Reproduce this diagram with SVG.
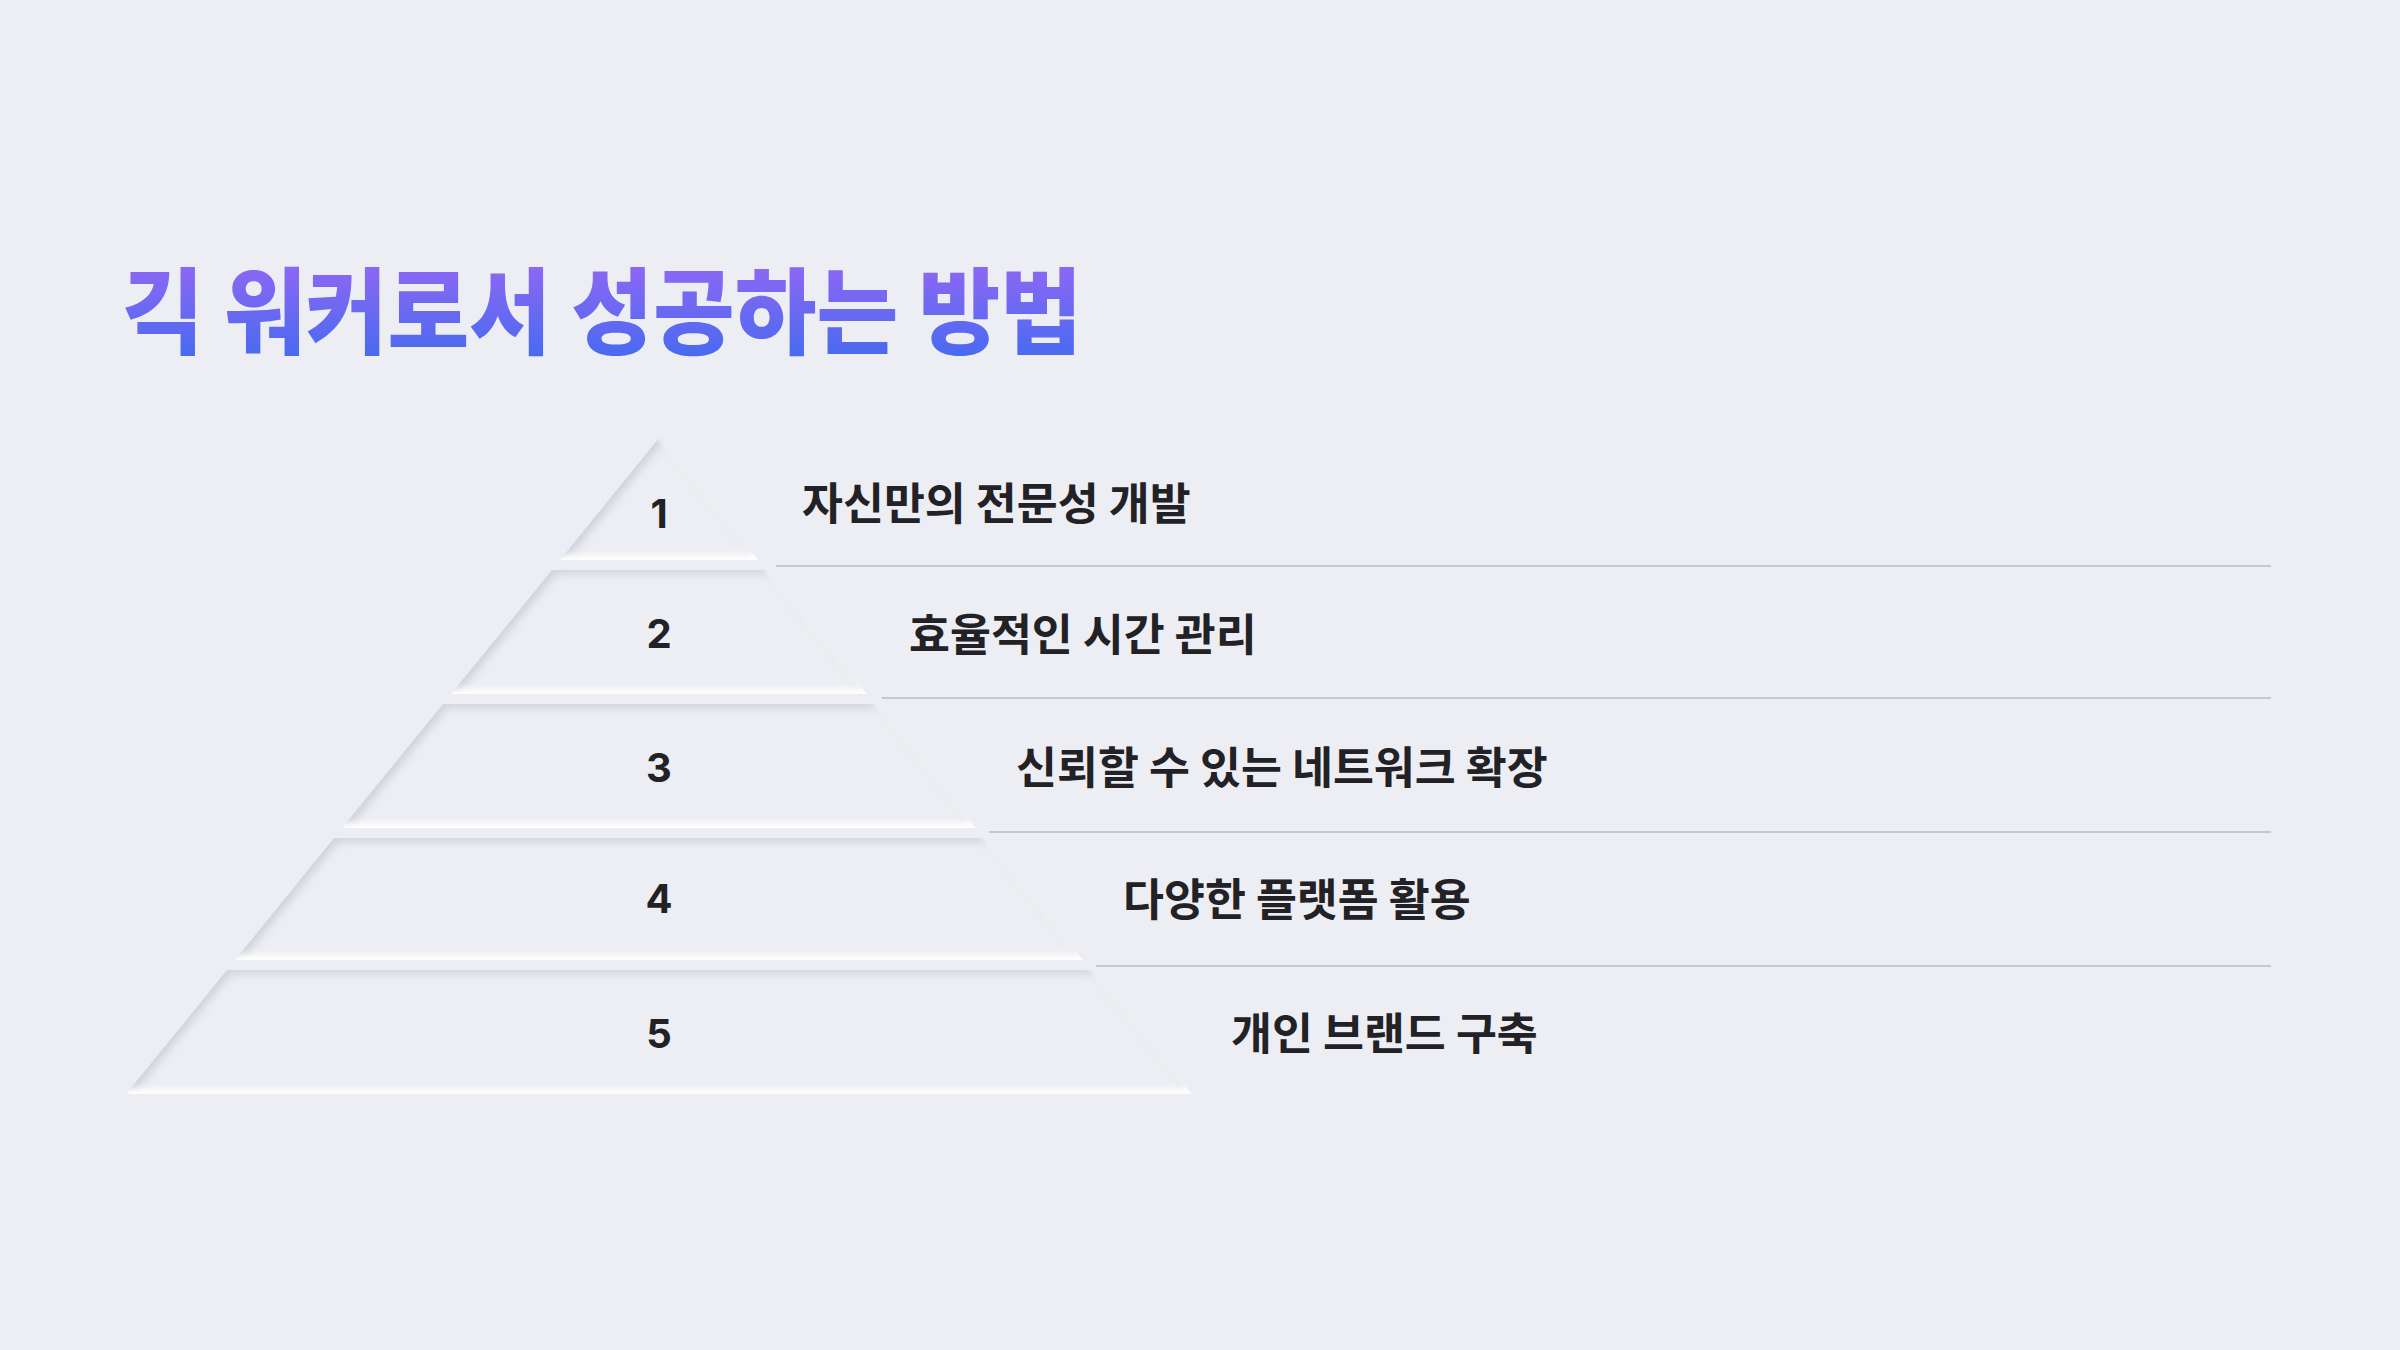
<svg xmlns="http://www.w3.org/2000/svg" width="2400" height="1350" viewBox="0 0 2400 1350">
  <defs>
    <linearGradient id="titleGrad" x1="0" y1="0" x2="0" y2="1">
      <stop offset="0" stop-color="#a266f5"/>
      <stop offset="1" stop-color="#3b6bef"/>
    </linearGradient>
    <filter id="inset" x="-10%" y="-10%" width="120%" height="120%">
      <feFlood flood-color="#cfd1dc" result="dark"/>
      <feComposite in="dark" in2="SourceAlpha" operator="out" result="outD"/>
      <feOffset in="outD" dx="4" dy="4" result="offD"/>
      <feGaussianBlur in="offD" stdDeviation="4" result="blurD"/>
      <feComposite in="blurD" in2="SourceAlpha" operator="in" result="shD"/>
      <feFlood flood-color="#ffffff" result="light"/>
      <feComposite in="light" in2="SourceAlpha" operator="out" result="outL"/>
      <feOffset in="outL" dx="-4" dy="-5" result="offL"/>
      <feGaussianBlur in="offL" stdDeviation="3" result="blurL"/>
      <feComposite in="blurL" in2="SourceAlpha" operator="in" result="shL"/>
      <feMerge>
        <feMergeNode in="SourceGraphic"/>
        <feMergeNode in="shD"/>
        <feMergeNode in="shL"/>
      </feMerge>
    </filter>
  </defs>
  <style>
    .layer { fill: #edeef3; filter: url(#inset); }
    .num { font-family: Inter, "Liberation Sans", sans-serif; font-weight: 700; font-size: 40px; fill: #222226; text-anchor: middle; }
    .label { font-family: "Noto Sans CJK KR", "Noto Sans", sans-serif; font-weight: 700; font-size: 44.5px; fill: #222226; }
    .sep { stroke: #c6c6d4; stroke-width: 2; fill: none; }
    .title { font-family: "Noto Sans CJK KR", "Noto Sans", sans-serif; font-weight: 900; font-size: 94px; fill: url(#titleGrad); }
  </style>
  <rect width="2400" height="1350" fill="#edeef3"/>

  <text class="title" x="122" y="347" textLength="960" lengthAdjust="spacingAndGlyphs">긱 워커로서 성공하는 방법</text>

  <g id="connectors">
    <line class="sep" x1="776" y1="566" x2="2271" y2="566"/>
    <line class="sep" x1="882" y1="698" x2="2271" y2="698"/>
    <line class="sep" x1="989" y1="832" x2="2271" y2="832"/>
    <line class="sep" x1="1096" y1="966" x2="2271" y2="966"/>
  </g>

  <g id="level1">
    <polygon class="layer" points="659,438 758,560 560,560"/>
    <text class="num" x="659" y="528">1</text>
    <text class="label" x="802" y="520">자신만의 전문성 개발</text>
  </g>
  <g id="level2">
    <polygon class="layer" points="552,570 766,570 867,694 451,694"/>
    <text class="num" x="659" y="648">2</text>
    <text class="label" x="909" y="651">효율적인 시간 관리</text>
  </g>
  <g id="level3">
    <polygon class="layer" points="443,704 875,704 976,828 342,828"/>
    <text class="num" x="659" y="782">3</text>
    <text class="label" x="1016" y="784">신뢰할 수 있는 네트워크 확장</text>
  </g>
  <g id="level4">
    <polygon class="layer" points="334,838 984,838 1083,960 235,960"/>
    <text class="num" x="659" y="913">4</text>
    <text class="label" x="1123" y="916">다양한 플랫폼 활용</text>
  </g>
  <g id="level5">
    <polygon class="layer" points="227,970 1091,970 1192,1094 126,1094"/>
    <text class="num" x="659" y="1048">5</text>
    <text class="label" x="1231" y="1050">개인 브랜드 구축</text>
  </g>
</svg>
